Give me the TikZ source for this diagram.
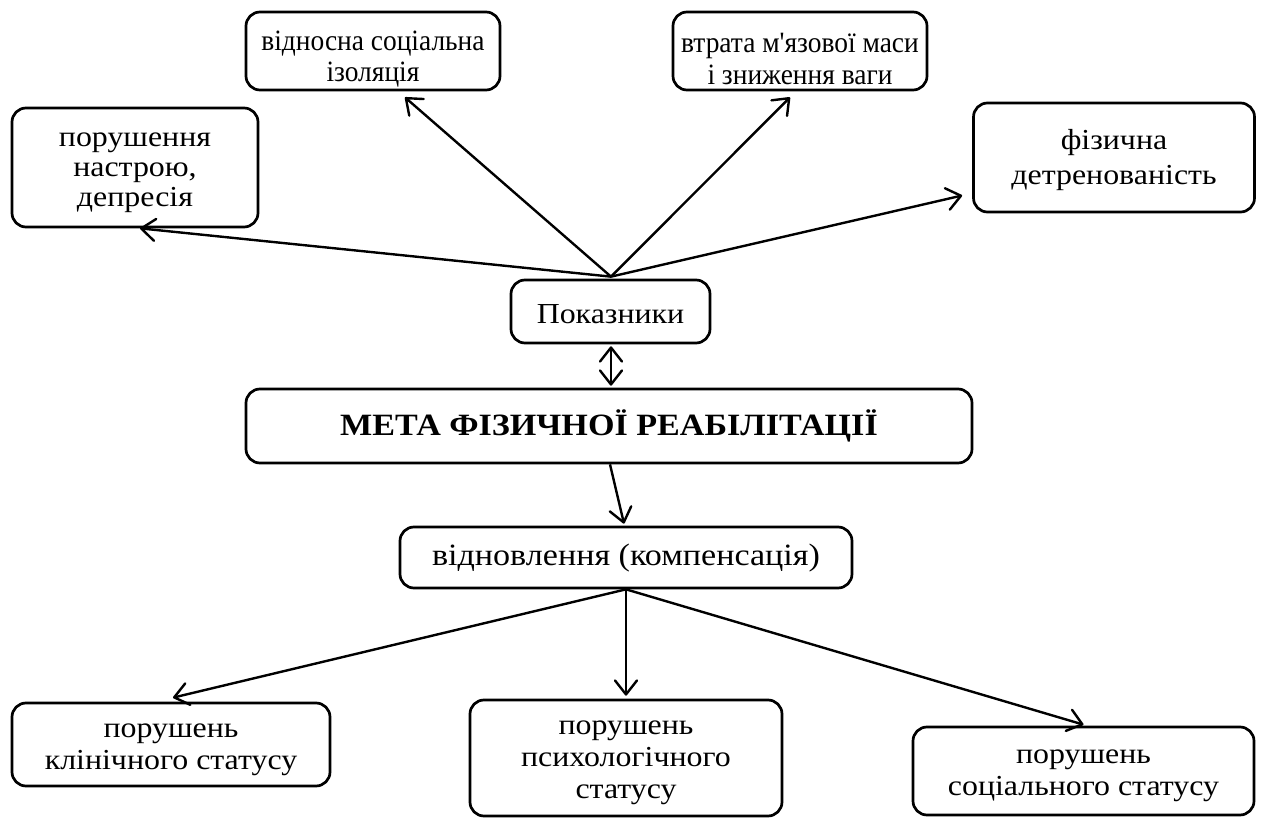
\documentclass[tikz,border=0pt]{standalone}
\usepackage{fontspec}
\setmainfont{Liberation Serif}[Ligatures=TeXOff]
\newfontfamily\fa{Liberation Serif}[Ligatures=TeXOff, FakeStretch=1.1]
\newfontfamily\fc{Liberation Serif}[Ligatures=TeXOff, FakeStretch=0.93]
\usetikzlibrary{arrows.meta,calc}
\tikzset{
  box/.style={draw, rounded corners=14pt, line width=2.7pt, inner sep=0pt},
  txt/.style={align=center, inner sep=0pt, font=\fa\fontsize{29}{32}\selectfont},
  smalltxt/.style={font=\fc\fontsize{29.5}{31.5}\selectfont},
  bigtxt/.style={font=\fa\fontsize{31}{31}\selectfont},
  arr/.style={line width=2.4pt, line join=round, -{Straight Barb[length=14pt,width=22pt,line width=2.4pt,round]}},
  darr/.style={line width=2.4pt, line join=round, {Straight Barb[length=14pt,width=22pt,line width=2.4pt,round]}-{Straight Barb[length=14pt,width=22pt,line width=2.4pt,round]}}
}
% #1 text style, #2 name, #3 centre, #4 width, #5 height, #6 text shift, #7 text
\newcommand{\bx}[7][]{%
  \node[box, minimum width=#4pt, minimum height=#5pt] (#2) at (#3) {};
  \node[txt, #1] (#2-t) at ($(#2)+(0,#6)$) {#7};}
\begin{document}
\begin{tikzpicture}[x=1pt,y=-1pt]
\path[use as bounding box] (0,0) rectangle (1262,818);
\bx[font=\fa\fontsize{29}{30}\selectfont]{depr}{135,167.5}{246}{119}{5}{порушення\\настрою,\\депресія}
\bx[smalltxt]{isol}{373,51}{254}{78}{8}{відносна соціальна\\ізоляція}
\bx[smalltxt]{mass}{800,51}{254}{78}{8}{втрата м'язової маси\\і зниження ваги}
\bx[font=\fa\fontsize{29}{35}\selectfont]{fiz}{1114,157.5}{281}{109}{3}{фізична\\детренованість}
\bx{pokaz}{610.5,311.5}{199}{63}{3}{Показники}
\bx[bigtxt]{meta}{609,426}{726}{74}{0}{\bfseries МЕТА ФІЗИЧНОЇ РЕАБІЛІТАЦІЇ}
\bx[bigtxt]{vidn}{626,557.5}{452}{61}{1}{відновлення (компенсація)}
\bx{klin}{171,744.5}{318}{83}{5}{порушень\\клінічного статусу}
\bx{psych}{626,758}{312}{116}{5}{порушень\\психологічного\\статусу}
\bx{soc}{1083.5,771}{341}{88}{4.5}{порушень\\соціального статусу}

\coordinate (apex) at ($(pokaz.north)+(0.5,-2)$);
\draw[arr] (apex) -- ($(depr.south)+(5,0)$);
\draw[arr] (apex) -- ($(isol.south)+(32,6)$);
\draw[arr] (apex) -- ($(mass.south)+(-10,6)$);
\draw[arr] (apex) -- ($(fiz.west)+(-10,38)$);
\draw[darr] ($(pokaz.south)+(0.5,2)$) -- ($(meta.north)+(2,-2)$);
\draw[arr] ($(meta.south)+(1,0)$) -- ($(vidn.north)+(-2,-2)$);
\coordinate (fork) at (vidn.south);
\draw[arr] (fork) -- ($(klin.north)+(2,-4)$);
\draw[arr] (fork) -- ($(psych.north)+(0,-3)$);
\draw[arr] (fork) -- ($(soc.north)+(0,-1)$);
\end{tikzpicture}
\end{document}
